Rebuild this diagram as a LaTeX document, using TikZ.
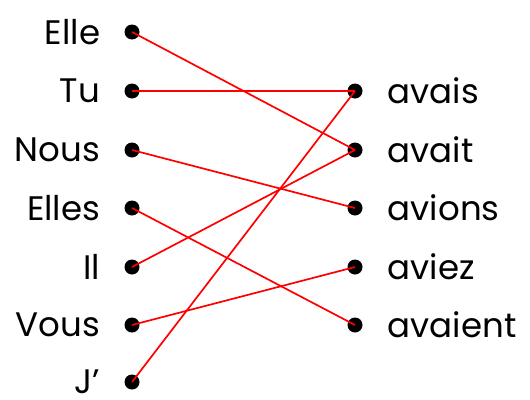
\documentclass[tikz,border=0pt]{standalone}
\usepackage{fontspec}
\setmainfont{Poppins}
\begin{document}
\begin{tikzpicture}[
    x = 1pt, y = -1pt,
    dot/.style = {circle, fill, inner sep = 0pt, minimum size = 15pt},
    word/.style = {font = \fontsize{34}{38}\selectfont, inner sep = 0pt},
    lft/.style = {label = {[word, label distance = 24pt]left:#1}},
    rgt/.style = {label = {[word, label distance = 25pt]right:#1}},
    link/.style = {draw = red, line width = 1.7pt},
  ]
  \useasboundingbox (0,0) rectangle (530,399);
  % left column
  \node[dot, lft = Elle]  (elle)  at (132,32) {};
  \node[dot, lft = Tu]    (tu)    at (132,91) {};
  \node[dot, lft = Nous]  (nous)  at (132,150) {};
  \node[dot, lft = Elles] (elles) at (132,208) {};
  \node[dot, lft = Il]    (il)    at (132,267) {};
  \node[dot, lft = Vous]  (vous)  at (132,325) {};
  \node[dot, lft = J’]    (je)    at (132,382) {};
  % right column
  \node[dot, rgt = avais]   (avais)   at (355,91) {};
  \node[dot, rgt = avait]   (avait)   at (355,150) {};
  \node[dot, rgt = avions]  (avions)  at (355,208) {};
  \node[dot, rgt = aviez]   (aviez)   at (355,267) {};
  \node[dot, rgt = avaient] (avaient) at (355,325) {};
  % matching
  \draw[link] (elle.center)  -- (avait.center);
  \draw[link] (tu.center)    -- (avais.center);
  \draw[link] (nous.center)  -- (avions.center);
  \draw[link] (elles.center) -- (avaient.center);
  \draw[link] (il.center)    -- (avait.center);
  \draw[link] (vous.center)  -- (aviez.center);
  \draw[link] (je.center)    -- (avais.center);
\end{tikzpicture}
\end{document}
